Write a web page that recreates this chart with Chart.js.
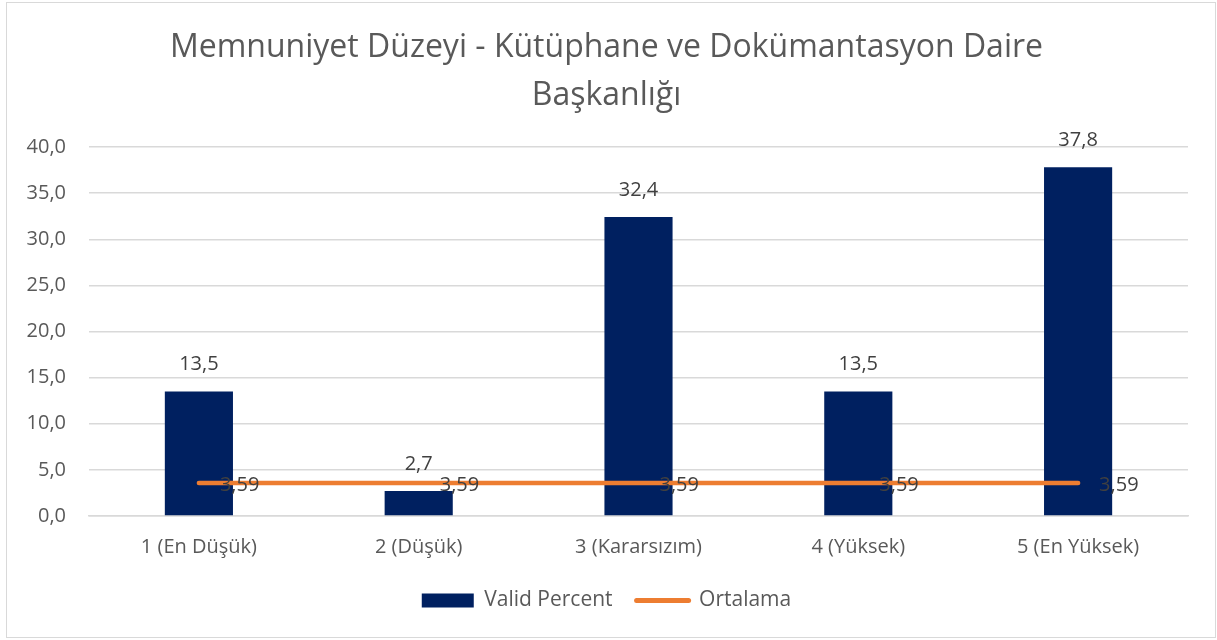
<!DOCTYPE html>
<html>
<head>
<meta charset="utf-8">
<script src="https://cdn.jsdelivr.net/npm/chart.js@4"></script>
<style>
  html, body { margin: 0; padding: 0; background: #fff; }
  #frame {
    position: absolute; left: 6px; top: 2px;
    width: 1208px; height: 634px;
    border: 1px solid #d9d9d9; background: #fff;
  }
  #chart { display: block; }
</style>
</head>
<body>
<div id="frame"><canvas id="chart" width="1208" height="634"></canvas></div>
<script>
'use strict';

// ── Data ────────────────────────────────────────────────
const categories   = ['1 (En Düşük)', '2 (Düşük)', '3 (Kararsızım)', '4 (Yüksek)', '5 (En Yüksek)'];
const validPercent = [13.5, 2.7, 32.4, 13.5, 37.8];
const ortalama     = [3.59, 3.59, 3.59, 3.59, 3.59];
const titleLines   = ['Memnuniyet Düzeyi - Kütüphane ve Dokümantasyon Daire', 'Başkanlığı'];

const NAVY   = '#002060';
const ORANGE = '#ED7D31';
const GRID   = '#d9d9d9';
const TEXT   = '#595959';
const FONT   = "'Open Sans', sans-serif";
const SIZE   = 20;

const fmt = (v, d) => v.toFixed(d).replace('.', ',');

// ── Value labels (no datalabels plugin offline) ─────────
const valueLabels = {
  id: 'valueLabels',
  afterDatasetsDraw(chart) {
    const ctx = chart.ctx;
    ctx.save();
    ctx.font = SIZE + 'px ' + FONT;
    ctx.fillStyle = '#404040';
    ctx.textBaseline = 'middle';
    ctx.textAlign = 'center';
    chart.getDatasetMeta(0).data.forEach((bar, i) => {
      ctx.fillText(fmt(validPercent[i], 1), bar.x, bar.y - 27);
    });
    ctx.textAlign = 'left';
    chart.getDatasetMeta(1).data.forEach((pt, i) => {
      ctx.fillText(fmt(ortalama[i], 2), pt.x + 21, pt.y + 2);
    });
    ctx.restore();
  }
};

new Chart(document.getElementById('chart'), {
  data: {
    labels: categories,
    datasets: [
      {
        type: 'bar',
        label: 'Valid Percent',
        data: validPercent,
        backgroundColor: NAVY,
        barPercentage: 0.62,
        categoryPercentage: 0.5,
        order: 2,
      },
      {
        type: 'line',
        label: 'Ortalama',
        data: ortalama,
        borderColor: ORANGE,
        backgroundColor: ORANGE,
        borderWidth: 4.5,
        borderCapStyle: 'round',
        pointRadius: 0,
        order: 1,
      },
    ],
  },
  options: {
    responsive: false,
    animation: false,
    layout: { padding: { left: 18, right: 27, top: 0, bottom: 16 } },
    plugins: {
      title: {
        display: true,
        text: titleLines,
        color: TEXT,
        font: { family: FONT, size: 32, weight: 'normal', lineHeight: 1.5 },
        padding: { top: 21, bottom: 27 },
      },
      legend: {
        position: 'bottom',
        labels: {
          usePointStyle: true,
          pointStyleWidth: 52,
          boxHeight: 14,
          padding: 24,
          color: TEXT,
          font: { family: FONT, size: 21 },
          generateLabels: chart => chart.data.datasets.map((ds, i) => ({
            text: ds.label,
            datasetIndex: i,
            fillStyle: ds.backgroundColor,
            strokeStyle: ds.type === 'line' ? ORANGE : NAVY,
            lineWidth: ds.type === 'line' ? 5 : 0,
            lineCap: 'round',
            pointStyle: ds.type === 'line' ? 'line' : 'rect',
            fontColor: TEXT,
          })),
        },
      },
      tooltip: { enabled: false },
    },
    scales: {
      x: {
        grid: { display: false },
        border: { color: GRID, width: 1.5 },
        ticks: { color: TEXT, font: { family: FONT, size: SIZE }, padding: 11 },
        afterFit: s => { s.height -= 4; },
      },
      y: {
        min: 0, max: 40,
        ticks: {
          stepSize: 5,
          color: TEXT,
          font: { family: FONT, size: SIZE },
          padding: 23,
          callback: v => fmt(v, 1),
        },
        grid: { color: GRID, lineWidth: 1.5, drawTicks: false },
        border: { display: false },
        afterFit: s => { s.width = 64; },
      },
    },
  },
  plugins: [valueLabels],
});
</script>
</body>
</html>
